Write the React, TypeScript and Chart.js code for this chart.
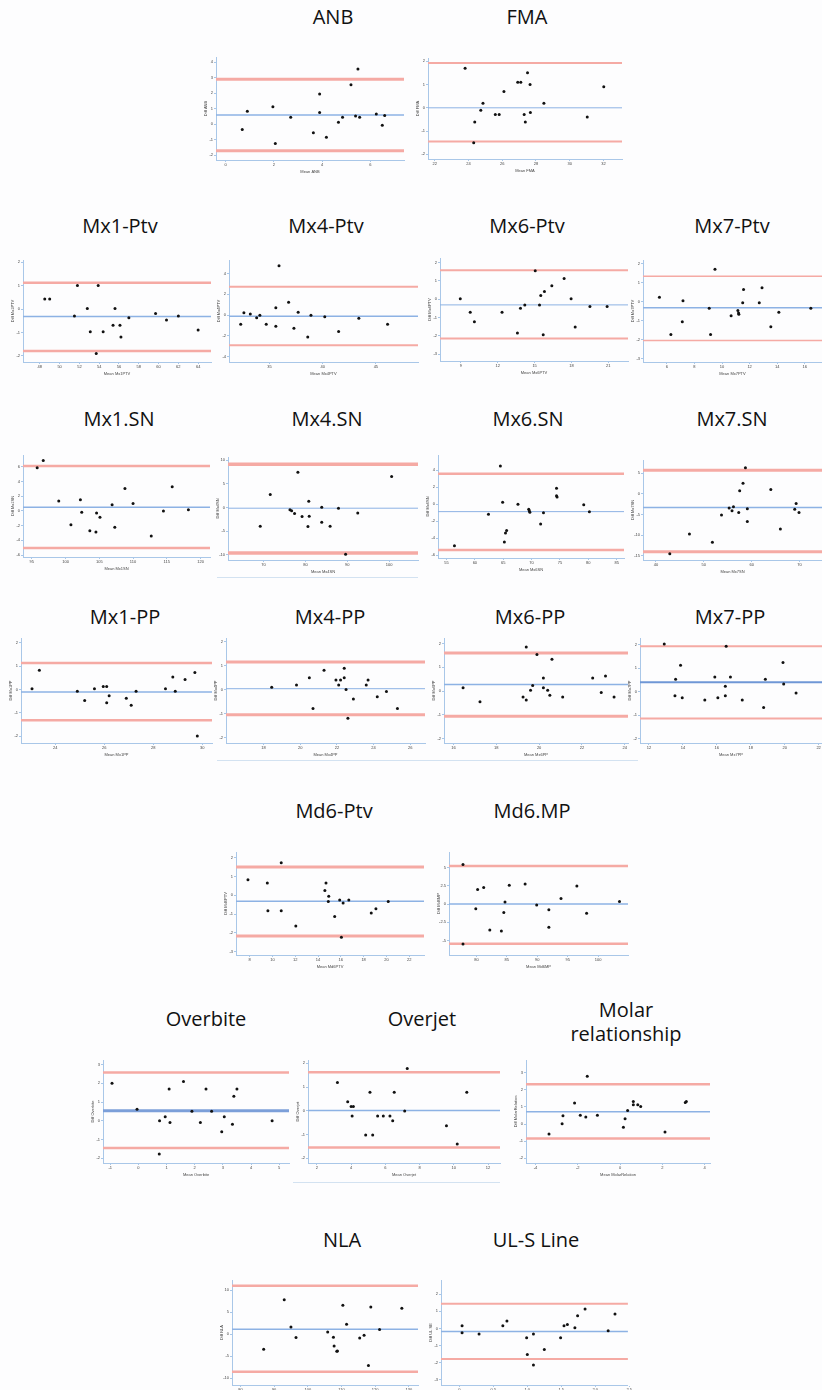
import React, { useEffect, useRef } from "react";
import { Chart, registerables } from "chart.js";
Chart.register(...registerables);

// ---------- DATA ----------
const ANB_MEAN = [0.69, 0.9, 1.96, 2.06, 2.7, 3.64, 3.9, 3.9, 4.18, 4.68, 4.85, 5.2, 5.39, 5.49, 5.56, 6.25, 6.5, 6.6];
const ANB_DIFF = [-0.34, 0.83, 1.13, -1.24, 0.45, -0.54, 1.95, 0.75, -0.84, 0.13, 0.45, 2.55, 0.54, 3.55, 0.45, 0.66, -0.06, 0.56];
const ANB_LIMITS = [0.6, 2.9, -1.7];
const ANB_XTICKS = [0, 2, 4, 6];
const ANB_YTICKS = [-2, -1, 0, 1, 2, 3, 4];

const FMA_MEAN = [23.8, 24.37, 24.31, 24.73, 24.86, 25.59, 25.82, 26.1, 26.92, 27.1, 27.3, 27.37, 27.5, 27.65, 27.67, 28.47, 31.04, 32.02];
const FMA_DIFF = [1.7, -0.61, -1.5, -0.1, 0.2, -0.29, -0.29, 0.7, 1.1, 1.1, -0.29, -0.61, 1.51, 1.0, -0.2, 0.2, -0.4, 0.9];
const FMA_LIMITS = [0.0, 1.93, -1.45];
const FMA_XTICKS = [22, 24, 26, 28, 30, 32];
const FMA_YTICKS = [-2, -1, 0, 1, 2];

const MX1PTV_MEAN = [48.5, 49.0, 51.5, 51.8, 52.8, 53.1, 53.7, 53.9, 54.4, 55.4, 55.6, 56.1, 56.2, 57.0, 59.7, 60.8, 62.0, 64.0];
const MX1PTV_DIFF = [0.43, 0.43, -0.29, 1.01, 0.03, -0.97, -1.9, 1.01, -0.97, -0.69, 0.03, -0.69, -1.19, -0.37, -0.19, -0.47, -0.29, -0.89];
const MX1PTV_LIMITS = [-0.31, 1.13, -1.79];
const MX1PTV_XTICKS = [48, 50, 52, 54, 56, 58, 60, 62, 64];
const MX1PTV_YTICKS = [-2, -1, 0, 1, 2];

const MX4PTV_MEAN = [32.3, 32.6, 33.2, 33.8, 34.1, 34.7, 35.6, 35.6, 35.9, 36.8, 37.3, 37.7, 38.6, 38.9, 40.2, 41.5, 43.4, 46.1];
const MX4PTV_DIFF = [-0.87, 0.23, 0.1, -0.26, 0, -0.87, 0.71, -1.06, 4.74, 1.23, -1.26, 0.29, -2.1, 0, -0.16, -1.58, -0.29, -0.87];
const MX4PTV_LIMITS = [-0.1, 2.74, -2.9];
const MX4PTV_XTICKS = [35, 40, 45];
const MX4PTV_YTICKS = [-4, -2, 0, 2, 4];

const MX6PTV_MEAN = [8.95, 9.76, 10.1, 12.35, 13.6, 13.85, 14.2, 15.05, 15.4, 15.5, 15.7, 15.8, 16.4, 17.4, 17.97, 18.3, 19.5, 20.9];
const MX6PTV_DIFF = [0.02, -0.71, -1.22, -0.71, -1.84, -0.49, -0.31, 1.55, -0.31, 0.2, -1.93, 0.42, 0.73, 1.13, 0.02, -1.51, -0.4, -0.4];
const MX6PTV_LIMITS = [-0.31, 1.58, -2.13];
const MX6PTV_XTICKS = [9, 12, 15, 18, 21];
const MX6PTV_YTICKS = [-3, -2, -1, 0, 1, 2];

const MX7PTV_MEAN = [5.46, 6.29, 7.17, 7.12, 9.07, 9.17, 9.49, 10.66, 11.15, 11.2, 11.22, 11.5, 11.56, 12.7, 12.9, 13.54, 14.12, 16.44];
const MX7PTV_DIFF = [0.23, -1.74, 0.04, -1.07, -0.35, -1.74, 1.7, -0.75, -0.47, -0.6, -0.67, -0.07, 0.63, -0.07, 0.72, -1.33, -0.56, -0.35];
const MX7PTV_LIMITS = [-0.33, 1.33, -2.05];
const MX7PTV_XTICKS = [6, 8, 10, 12, 14, 16];
const MX7PTV_YTICKS = [-3, -2, -1, 0, 1, 2];

const MX1SN_MEAN = [95.8, 96.7, 99.0, 100.8, 102.2, 102.4, 103.6, 104.5, 104.6, 105.1, 106.9, 107.3, 108.8, 110.0, 112.7, 114.5, 115.8, 118.2];
const MX1SN_DIFF = [5.86, 6.86, 1.36, -1.9, 1.5, -0.18, -2.7, -2.86, -0.27, -0.86, 0.82, -2.23, 3.05, 1.0, -3.4, 0.0, 3.27, 0.14];
const MX1SN_LIMITS = [0.5, 6.1, -5.05];
const MX1SN_XTICKS = [95, 100, 105, 110, 115, 120];
const MX1SN_YTICKS = [-6, -4, -2, 0, 2, 4, 6];

const MX4SN_MEAN = [69.2, 71.6, 76.3, 76.7, 77.4, 78.2, 79.2, 80.8, 80.6, 80.9, 83.9, 83.9, 85.9, 87.9, 89.6, 92.5, 100.6];
const MX4SN_DIFF = [-3.94, 2.75, -0.49, -0.7, -1.27, 7.46, -1.9, 1.34, -4.0, -1.83, 0.07, -3.1, -3.94, -0.14, -9.86, -1.13, 6.55];
const MX4SN_LIMITS = [-0.14, 9.15, -9.6];
const MX4SN_XTICKS = [70, 80, 90, 100];
const MX4SN_YTICKS = [-10, -5, 0, 5, 10];

const MX6SN_MEAN = [56.4, 62.4, 64.5, 64.9, 65.2, 65.4, 65.6, 67.6, 69.5, 69.6, 69.7, 71.6, 72.1, 74.4, 74.5, 74.4, 79.2, 80.2];
const MX6SN_DIFF = [-4.9, -1.18, 4.5, 0.24, -4.47, -3.41, -3.1, 0, -0.59, -0.78, -0.94, -2.35, -1.02, 1.88, 0.86, 0.98, -0.08, -0.9];
const MX6SN_LIMITS = [-0.88, 3.6, -5.4];
const MX6SN_XTICKS = [55, 60, 65, 70, 75, 80, 85];
const MX6SN_YTICKS = [-6, -4, -2, 0, 2, 4];

const MX7SN_MEAN = [42.9, 47.0, 51.8, 53.7, 55.3, 55.9, 56.2, 57.3, 57.5, 58.2, 58.7, 59.1, 59.1, 64.0, 66.0, 69.0, 69.3, 69.9];
const MX7SN_DIFF = [-14.5, -9.7, -11.7, -5.1, -3.4, -4.1, -3.1, -4.5, 0.73, 2.6, 6.3, -3.6, -6.7, 1.05, -8.5, -3.7, -2.3, -4.5];
const MX7SN_LIMITS = [-3.3, 5.7, -14];
const MX7SN_XTICKS = [40, 50, 60, 70];
const MX7SN_YTICKS = [-15, -10, -5, 0, 5];

const MX1PP_MEAN = [23.05, 23.35, 24.9, 25.2, 25.6, 25.96, 26.1, 26.1, 26.2, 26.9, 27.1, 27.3, 28.5, 28.8, 28.9, 29.3, 29.7, 29.8];
const MX1PP_DIFF = [0.03, 0.83, -0.07, -0.47, 0.03, 0.13, 0.13, -0.57, -0.27, -0.37, -0.67, -0.07, 0.03, 0.54, -0.07, 0.43, 0.73, -1.99];
const MX1PP_LIMITS = [-0.1, 1.14, -1.31];
const MX1PP_XTICKS = [24, 26, 28, 30];
const MX1PP_YTICKS = [-2, -1, 0, 1, 2];

const MX4PP_MEAN = [18.45, 19.8, 20.5, 20.7, 21.3, 21.95, 22.1, 22.2, 22.4, 22.4, 22.5, 22.6, 22.9, 23.6, 23.7, 24.2, 24.7, 25.3];
const MX4PP_DIFF = [0.1, 0.19, 0.5, -0.78, 0.81, 0.4, 0.19, 0.4, 0.89, 0.5, 0.01, -1.19, -0.39, 0.19, 0.4, -0.29, -0.08, -0.78];
const MX4PP_LIMITS = [0.04, 1.15, -1.04];
const MX4PP_XTICKS = [18, 20, 22, 24, 26];
const MX4PP_YTICKS = [-2, -1, 0, 1, 2];

const MX6PP_MEAN = [16.45, 17.24, 19.25, 19.4, 19.4, 19.6, 19.7, 19.9, 20.2, 20.2, 20.4, 20.5, 20.6, 21.1, 22.5, 22.9, 23.1, 23.5];
const MX6PP_DIFF = [0.14, -0.45, -0.25, -0.37, 1.85, 0.04, 0.24, 1.54, 0.55, 0.14, 0.04, -0.17, 1.34, -0.25, 0.55, -0.06, 0.63, -0.25];
const MX6PP_LIMITS = [0.28, 1.6, -1.06];
const MX6PP_XTICKS = [16, 18, 20, 22, 24];
const MX6PP_YTICKS = [-2, -1, 0, 1, 2];

const MX7PP_MEAN = [12.9, 13.53, 13.57, 13.86, 13.96, 15.29, 15.88, 16.06, 16.5, 16.5, 16.55, 16.8, 17.5, 18.76, 18.86, 19.9, 19.94, 20.67];
const MX7PP_DIFF = [2.03, -0.17, 0.53, 1.13, -0.26, -0.36, 0.63, -0.26, -0.17, 0.23, 1.94, 0.63, -0.36, -0.67, 0.53, 1.24, 0.33, -0.06];
const MX7PP_LIMITS = [0.4, 1.94, -1.14];
const MX7PP_XTICKS = [12, 14, 16, 18, 20, 22];
const MX7PP_YTICKS = [-2, -1, 0, 1, 2];

const MD6PTV_MEAN = [7.85, 9.55, 9.6, 10.77, 10.77, 12.05, 14.6, 14.7, 14.94, 14.9, 15.46, 15.9, 16.05, 16.2, 16.7, 18.67, 19.08, 20.16];
const MD6PTV_DIFF = [0.83, 0.65, -0.83, 1.73, -0.83, -1.64, 0.25, 0.65, -0.05, -0.34, -1.13, -0.25, -2.23, -0.42, -0.25, -0.94, -0.72, -0.34];
const MD6PTV_LIMITS = [-0.32, 1.5, -2.17];
const MD6PTV_XTICKS = [8, 10, 12, 14, 16, 18, 20, 22];
const MD6PTV_YTICKS = [-3, -2, -1, 0, 1, 2];

const MD6MP_MEAN = [77.8, 77.8, 79.9, 80.2, 81.2, 82.2, 84.1, 84.5, 84.7, 85.4, 88.0, 89.9, 91.9, 91.9, 93.9, 96.5, 98.1, 103.5];
const MD6MP_DIFF = [5.4, -5.45, -0.64, 2.0, 2.27, -3.55, -3.68, -1.14, 0.27, 2.55, 2.73, -0.14, -0.77, -3.18, 0.77, 2.45, -1.27, 0.36];
const MD6MP_LIMITS = [0, 5.2, -5.4];
const MD6MP_XTICKS = [80, 85, 90, 95, 100];
const MD6MP_YTICKS = [-5, -2.5, 0, 2.5, 5];

const OVERBITE_MEAN = [-0.94, -0.05, 0.74, 0.75, 0.95, 1.09, 1.12, 1.6, 1.9, 2.2, 2.4, 2.6, 2.96, 3.05, 3.34, 3.39, 3.5, 4.75];
const OVERBITE_DIFF = [2.0, 0.62, -1.77, 0, 0.21, 1.7, -0.09, 2.09, 0.51, -0.09, 1.7, 0.51, -0.59, 0.21, -0.18, 1.31, 1.7, 0];
const OVERBITE_LIMITS = [0.53, 2.57, -1.45];
const OVERBITE_XTICKS = [-1, 0, 1, 2, 3, 4, 5];
const OVERBITE_YTICKS = [-2, -1, 0, 1, 2, 3];

const OVERJET_MEAN = [3.2, 3.8, 4.0, 4.13, 4.06, 4.85, 5.1, 5.26, 5.55, 5.88, 6.27, 6.43, 6.52, 7.13, 7.28, 9.57, 10.2, 10.76];
const OVERJET_DIFF = [1.19, 0.38, 0.18, 0.18, -0.22, -1.02, 0.78, -1.02, -0.22, -0.22, -0.22, -0.42, 0.78, -0.01, 1.78, -0.63, -1.4, 0.78];
const OVERJET_LIMITS = [0.01, 1.62, -1.55];
const OVERJET_XTICKS = [2, 4, 6, 8, 10, 12];
const OVERJET_YTICKS = [-2, -1, 0, 1, 2];

const MOLAR_MEAN = [-3.36, -2.74, -2.7, -2.15, -1.88, -1.62, -1.55, -1.07, 0.16, 0.24, 0.36, 0.63, 0.63, 0.84, 0.98, 2.13, 3.09, 3.14];
const MOLAR_DIFF = [-0.58, 0.02, 0.49, 1.23, 0.51, 0.41, 2.8, 0.51, -0.18, 0.31, 0.8, 1.32, 1.13, 1.13, 1.03, -0.47, 1.26, 1.32];
const MOLAR_LIMITS = [0.72, 2.33, -0.84];
const MOLAR_XTICKS = [-4, -2, 0, 2, 4];
const MOLAR_YTICKS = [-2, -1, 0, 1, 2, 3];

const NLA_MEAN = [86.9, 93.0, 95.0, 96.5, 105.9, 107.6, 107.8, 108.8, 108.6, 110.4, 111.5, 115.4, 116.7, 118.0, 118.7, 121.3, 127.9];
const NLA_DIFF = [-3.4, 7.8, 1.67, -0.76, 0.53, -0.68, -2.65, -3.79, -3.86, 6.6, 2.27, -0.83, -0.23, -7.1, 6.2, 1.06, 5.9];
const NLA_LIMITS = [1.14, 11, -8.5];
const NLA_XTICKS = [80, 90, 100, 110, 120, 130];
const NLA_YTICKS = [-10, -5, 0, 5, 10];

const ULS_MEAN = [0.04, 0.04, 0.29, 0.64, 0.7, 0.99, 1.0, 1.09, 1.09, 1.25, 1.49, 1.54, 1.59, 1.7, 1.74, 1.85, 2.19, 2.29];
const ULS_DIFF = [0.16, -0.25, -0.33, 0.16, 0.43, -0.55, -1.52, -0.33, -2.14, -1.23, -0.55, 0.16, 0.23, 0.04, 0.74, 1.13, -0.14, 0.84];
const ULS_LIMITS = [-0.18, 1.44, -1.79];
const ULS_XTICKS = [0, 0.5, 1, 1.5, 2, 2.5];
const ULS_YTICKS = [-3, -2, -1, 0, 1, 2];

// ---------- STYLE / LAYOUT ----------
const RED = "#f5aaa4";
const BLUE = "#8db2e4";
const AXIS = "#a9c7e8";
const TICK_FONT = { size: 4, family: "Arial, 'Liberation Sans', sans-serif" };
const YW = 14;
const XH = 15;
const PAD_T = 4;
const PAD_R = 4;

type Panel = {
  title: string[];
  tx: number;
  ty: number;
  box: [number, number, number, number];
  xr: [number, number];
  yr: [number, number];
  xs: number[];
  ys: number[];
  lim: number[];
  xt: number[];
  yt: number[];
  xl: string;
  yl: string;
  rw: number;
  bw: number;
  bc?: string;
};

const PANELS: Panel[] = [
  { title: ["ANB"], tx: 333, ty: 8, box: [216, 57, 404, 160], xr: [-0.4, 7.4], yr: [-2.3, 4.33], xs: ANB_MEAN, ys: ANB_DIFF, lim: ANB_LIMITS, xt: ANB_XTICKS, yt: ANB_YTICKS, xl: "Mean ANB", yl: "Diff ANB", rw: 3, bw: 1.5 },
  { title: ["FMA"], tx: 527, ty: 8, box: [428, 58, 622, 159], xr: [21.6, 33.1], yr: [-2.2, 2.14], xs: FMA_MEAN, ys: FMA_DIFF, lim: FMA_LIMITS, xt: FMA_XTICKS, yt: FMA_YTICKS, xl: "Mean FMA", yl: "Diff FMA", rw: 2, bw: 1 },

  { title: ["Mx1-Ptv"], tx: 120, ty: 217, box: [23, 260, 211, 362], xr: [46.3, 65.3], yr: [-2.26, 2.1], xs: MX1PTV_MEAN, ys: MX1PTV_DIFF, lim: MX1PTV_LIMITS, xt: MX1PTV_XTICKS, yt: MX1PTV_YTICKS, xl: "Mean Mx1PTV", yl: "Diff Mx1PTV", rw: 2.5, bw: 1.5 },
  { title: ["Mx4-Ptv"], tx: 326, ty: 217, box: [229, 260, 418, 362], xr: [31.2, 48.96], yr: [-4.5, 5.3], xs: MX4PTV_MEAN, ys: MX4PTV_DIFF, lim: MX4PTV_LIMITS, xt: MX4PTV_XTICKS, yt: MX4PTV_YTICKS, xl: "Mean Mx4PTV", yl: "Diff Mx4PTV", rw: 2, bw: 1.5 },
  { title: ["Mx6-Ptv"], tx: 527, ty: 217, box: [440, 258, 628, 361], xr: [7.3, 22.6], yr: [-3.36, 2.24], xs: MX6PTV_MEAN, ys: MX6PTV_DIFF, lim: MX6PTV_LIMITS, xt: MX6PTV_XTICKS, yt: MX6PTV_YTICKS, xl: "Mean Mx6PTV", yl: "Diff Mx6PTV", rw: 2, bw: 1 },
  { title: ["Mx7-Ptv"], tx: 732, ty: 217, box: [643, 260, 822, 362], xr: [4.27, 17.25], yr: [-3.19, 2.19], xs: MX7PTV_MEAN, ys: MX7PTV_DIFF, lim: MX7PTV_LIMITS, xt: MX7PTV_XTICKS, yt: MX7PTV_YTICKS, xl: "Mean Mx7PTV", yl: "Diff Mx7PTV", rw: 1.5, bw: 1.5 },

  { title: ["Mx1.SN"], tx: 119, ty: 410, box: [23, 455, 210, 557], xr: [93.7, 121.4], yr: [-6.27, 7.6], xs: MX1SN_MEAN, ys: MX1SN_DIFF, lim: MX1SN_LIMITS, xt: MX1SN_XTICKS, yt: MX1SN_YTICKS, xl: "Mean Mx1SN", yl: "Diff Mx1SN", rw: 2.5, bw: 1.5 },
  { title: ["Mx4.SN"], tx: 327, ty: 410, box: [228, 457, 418, 560], xr: [61.5, 106.9], yr: [-11.1, 10.7], xs: MX4SN_MEAN, ys: MX4SN_DIFF, lim: MX4SN_LIMITS, xt: MX4SN_XTICKS, yt: MX4SN_YTICKS, xl: "Mean Mx4SN", yl: "Diff Mx4SN", rw: 3.5, bw: 1 },
  { title: ["Mx6.SN"], tx: 528, ty: 410, box: [438, 455, 624, 558], xr: [53.5, 86.3], yr: [-6.35, 5.8], xs: MX6SN_MEAN, ys: MX6SN_DIFF, lim: MX6SN_LIMITS, xt: MX6SN_XTICKS, yt: MX6SN_YTICKS, xl: "Mean Mx6SN", yl: "Diff Mx6SN", rw: 2.5, bw: 1 },
  { title: ["Mx7.SN"], tx: 732, ty: 410, box: [643, 460, 822, 560], xr: [37.3, 74.7], yr: [-16, 8.2], xs: MX7SN_MEAN, ys: MX7SN_DIFF, lim: MX7SN_LIMITS, xt: MX7SN_XTICKS, yt: MX7SN_YTICKS, xl: "Mean Mx7SN", yl: "Diff Mx7SN", rw: 3, bw: 1.5 },

  { title: ["Mx1-PP"], tx: 125, ty: 608, box: [21, 638, 212, 743], xr: [22.6, 30.4], yr: [-2.29, 2.21], xs: MX1PP_MEAN, ys: MX1PP_DIFF, lim: MX1PP_LIMITS, xt: MX1PP_XTICKS, yt: MX1PP_YTICKS, xl: "Mean Mx1PP", yl: "Diff Mx1PP", rw: 2.5, bw: 1.5 },
  { title: ["Mx4-PP"], tx: 330, ty: 608, box: [226, 638, 425, 743], xr: [15.96, 26.8], yr: [-2.22, 2.15], xs: MX4PP_MEAN, ys: MX4PP_DIFF, lim: MX4PP_LIMITS, xt: MX4PP_XTICKS, yt: MX4PP_YTICKS, xl: "Mean Mx4PP", yl: "Diff Mx4PP", rw: 3, bw: 1 },
  { title: ["Mx6-PP"], tx: 530, ty: 608, box: [444, 638, 628, 743], xr: [15.56, 24.15], yr: [-2.18, 2.23], xs: MX6PP_MEAN, ys: MX6PP_DIFF, lim: MX6PP_LIMITS, xt: MX6PP_XTICKS, yt: MX6PP_YTICKS, xl: "Mean Mx6PP", yl: "Diff Mx6PP", rw: 3, bw: 1.5 },
  { title: ["Mx7-PP"], tx: 730, ty: 608, box: [640, 638, 822, 743], xr: [11.47, 22.2], yr: [-2.19, 2.29], xs: MX7PP_MEAN, ys: MX7PP_DIFF, lim: MX7PP_LIMITS, xt: MX7PP_XTICKS, yt: MX7PP_YTICKS, xl: "Mean Mx7PP", yl: "Diff Mx7PP", rw: 2, bw: 2, bc: "#6f97d6" },

  { title: ["Md6-Ptv"], tx: 334, ty: 802, box: [236, 852, 424, 955], xr: [6.8, 23.3], yr: [-3.18, 2.3], xs: MD6PTV_MEAN, ys: MD6PTV_DIFF, lim: MD6PTV_LIMITS, xt: MD6PTV_XTICKS, yt: MD6PTV_YTICKS, xl: "Mean Md6PTV", yl: "Diff Md6PTV", rw: 3, bw: 1.5 },
  { title: ["Md6.MP"], tx: 532, ty: 802, box: [449, 852, 628, 955], xr: [75.5, 104.9], yr: [-6.95, 7.1], xs: MD6MP_MEAN, ys: MD6MP_DIFF, lim: MD6MP_LIMITS, xt: MD6MP_XTICKS, yt: MD6MP_YTICKS, xl: "Mean Md6MP", yl: "Diff Md6MP", rw: 2.5, bw: 1.5 },

  { title: ["Overbite"], tx: 206, ty: 1010, box: [103, 1060, 289, 1163], xr: [-1.26, 5.35], yr: [-2.25, 3.24], xs: OVERBITE_MEAN, ys: OVERBITE_DIFF, lim: OVERBITE_LIMITS, xt: OVERBITE_XTICKS, yt: OVERBITE_YTICKS, xl: "Mean Overbite", yl: "Diff Overbite", rw: 2.5, bw: 3, bc: "#7c9fd9" },
  { title: ["Overjet"], tx: 422, ty: 1010, box: [308, 1060, 500, 1163], xr: [1.48, 12.7], yr: [-2.2, 2.14], xs: OVERJET_MEAN, ys: OVERJET_DIFF, lim: OVERJET_LIMITS, xt: OVERJET_XTICKS, yt: OVERJET_YTICKS, xl: "Mean Overjet", yl: "Diff Overjet", rw: 2.5, bw: 1.5 },
  { title: ["Molar", "relationship"], tx: 626, ty: 1001, box: [526, 1060, 710, 1163], xr: [-4.45, 4.26], yr: [-2.28, 3.75], xs: MOLAR_MEAN, ys: MOLAR_DIFF, lim: MOLAR_LIMITS, xt: MOLAR_XTICKS, yt: MOLAR_YTICKS, xl: "Mean MolarRelation", yl: "Diff MolarRelation", rw: 2.5, bw: 1.5 },

  { title: ["NLA"], tx: 342, ty: 1231, box: [232, 1280, 418, 1385], xr: [77.5, 132.7], yr: [-11.5, 12.3], xs: NLA_MEAN, ys: NLA_DIFF, lim: NLA_LIMITS, xt: NLA_XTICKS, yt: NLA_YTICKS, xl: "Mean NLA", yl: "Diff NLA", rw: 2.5, bw: 1.5 },
  { title: ["UL-S Line"], tx: 536, ty: 1231, box: [441, 1280, 628, 1385], xr: [-0.27, 2.48], yr: [-3.31, 2.83], xs: ULS_MEAN, ys: ULS_DIFF, lim: ULS_LIMITS, xt: ULS_XTICKS, yt: ULS_YTICKS, xl: "Mean ULSE", yl: "Diff UL SE", rw: 2, bw: 1.5 },
];

const RULES: [number, number, number][] = [
  [217, 418, 577],
  [217, 638, 760],
  [293, 500, 1182],
];

function Plot({ p }: { p: Panel }) {
  const ref = useRef<HTMLCanvasElement>(null);
  const [l, t, r, b] = p.box;
  const W = r - l + YW + PAD_R;
  const H = b - t + PAD_T + XH;
  useEffect(() => {
    if (!ref.current) return;
    const [x0, x1] = p.xr;
    const hline = (v: number, color: string, w: number) => ({
      type: "scatter" as const,
      data: [{ x: x0, y: v }, { x: x1, y: v }],
      showLine: true,
      borderColor: color,
      borderWidth: w,
      pointRadius: 0,
      fill: false,
    });
    const chart = new Chart(ref.current, {
      type: "scatter",
      data: {
        datasets: [
          {
            data: p.xs.map((x, i) => ({ x, y: p.ys[i] })),
            pointRadius: 1.5,
            pointBackgroundColor: "#111",
            pointBorderWidth: 0,
            showLine: false,
          },
          hline(p.lim[1], RED, p.rw),
          hline(p.lim[2], RED, p.rw),
          hline(p.lim[0], p.bc || BLUE, p.bw),
        ] as any,
      },
      options: {
        responsive: false,
        animation: false,
        events: [],
        layout: { padding: { left: 0, top: PAD_T, right: PAD_R, bottom: 0 } },
        plugins: { legend: { display: false }, tooltip: { enabled: false } },
        scales: {
          x: {
            type: "linear",
            min: p.xr[0],
            max: p.xr[1],
            afterBuildTicks: (s: any) => {
              s.ticks = p.xt.map((v) => ({ value: v }));
            },
            afterFit: (s: any) => {
              s.height = XH;
            },
            grid: { display: true, drawOnChartArea: false, drawTicks: true, tickLength: 2, color: AXIS },
            border: { display: true, color: AXIS, width: 1 },
            ticks: { font: TICK_FONT, color: "#444", padding: 0, maxRotation: 0, autoSkip: false },
            title: { display: true, text: p.xl, font: TICK_FONT, color: "#444", padding: { top: 0, bottom: 0.5 } },
          },
          y: {
            type: "linear",
            min: p.yr[0],
            max: p.yr[1],
            afterBuildTicks: (s: any) => {
              s.ticks = p.yt.map((v) => ({ value: v }));
            },
            afterFit: (s: any) => {
              s.width = YW;
            },
            grid: { display: true, drawOnChartArea: false, drawTicks: true, tickLength: 2, color: AXIS },
            border: { display: true, color: AXIS, width: 1 },
            ticks: { font: TICK_FONT, color: "#444", padding: 1, autoSkip: false },
            title: { display: true, text: p.yl, font: TICK_FONT, color: "#444", padding: { top: 1.5, bottom: 0 } },
          },
        },
      },
    } as any);
    return () => chart.destroy();
  }, [p]);
  return (
    <>
      <div
        style={{
          position: "absolute",
          left: p.tx - 150,
          top: p.ty - 3.5,
          width: 300,
          textAlign: "center",
          fontFamily: "'Open Sans', 'Noto Sans', sans-serif",
          fontSize: 20,
          lineHeight: "24px",
          color: "#111",
          whiteSpace: "pre",
        }}
      >
        {p.title.map((s, i) => (
          <div key={i}>{s}</div>
        ))}
      </div>
      <canvas
        ref={ref}
        width={W}
        height={H}
        style={{ position: "absolute", left: l - YW, top: t - PAD_T, width: W, height: H }}
      />
    </>
  );
}

export default function App() {
  return (
    <div
      style={{
        position: "absolute",
        left: 0,
        top: 0,
        width: 822,
        height: 1390,
        background: "#fdfdfe",
        overflow: "hidden",
      }}
    >
      {RULES.map(([a, c, y], i) => (
        <div key={i} style={{ position: "absolute", left: a, top: y, width: c - a, height: 1, background: "#d3e2f1" }} />
      ))}
      {PANELS.map((p, i) => (
        <Plot key={i} p={p} />
      ))}
    </div>
  );
}
